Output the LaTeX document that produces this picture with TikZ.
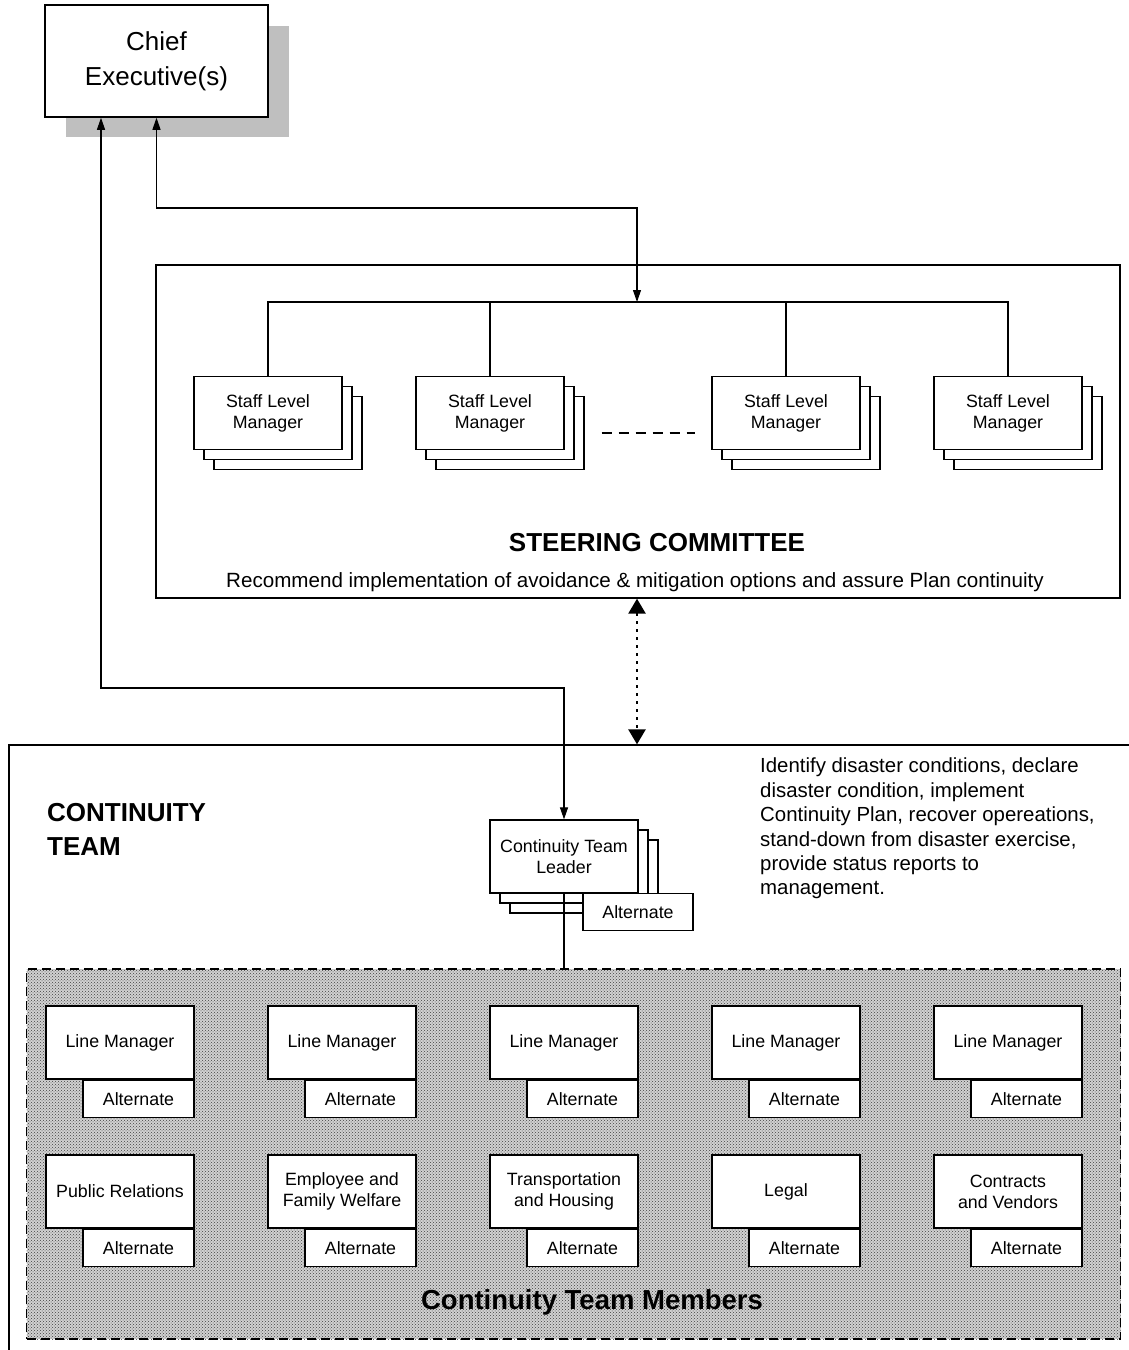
\documentclass[tikz,border=0pt]{standalone}
\usepackage{fontspec}
\setmainfont{Liberation Sans}
\usetikzlibrary{arrows.meta,patterns,positioning}

\tikzset{
  box/.style={draw, fill=white, line width=1.3pt, minimum width=148pt, minimum height=73pt,
    inner sep=0pt, align=center, font=\fontsize{17.8}{21}\selectfont},
  altbox/.style={draw, fill=white, line width=1.3pt, minimum width=111pt, minimum height=37pt,
    inner sep=0pt, font=\fontsize{17.8}{21}\selectfont},
  link/.style={line width=1.1pt},
  dbl/.style={{Triangle[width=8pt,length=12pt]}-{Triangle[width=8pt,length=12pt]}},
  heading/.style={inner sep=0pt, font=\fontsize{26}{34}\selectfont\bfseries},
}

\begin{document}
\begin{tikzpicture}[x=1pt, y=-1pt]
	\useasboundingbox (0,0) rectangle (1129,1350);
	\clip (0,0) rectangle (1129,1350);
	% chef avec ombre
	\fill[black!25] (66,26) rectangle (289,137);
	\node[draw, fill=white, line width=1.5pt, minimum width=223pt, minimum height=112pt,
		align=center, font=\fontsize{26}{35}\selectfont] (chief) at (156.5,61) {Chief\\Executive(s)};
	% comite de pilotage
	\node[draw, line width=1.3pt, minimum width=964pt, minimum height=333pt] (steer) at (638,431.5) {};
	\foreach \x [count=\i] in {268,490,786,1008} {
		\node[box] at (\x+20,433) {};
		\node[box] at (\x+10,423) {};
		\node[box] (staff\i) at (\x,413) {Staff Level\\Manager};
	}
	\coordinate (bus) at (637,302);
	\draw[link] (staff1.north) |- (bus) -| (staff4.north);
	\draw[link] (staff2.north) -- (staff2.north |- bus);
	\draw[link] (staff3.north) -- (staff3.north |- bus);
	\draw[link, dash pattern=on 10pt off 7pt] ([xshift=37pt,yshift=-20pt]staff2.east) -- ([xshift=-16pt,yshift=-20pt]staff3.west);
	\node[heading] (steertitle) at (657,543) {STEERING COMMITTEE};
	\node[inner sep=0pt, font=\fontsize{20.6}{24}\selectfont] (steertext) at (635,582)
		{Recommend implementation of avoidance \& mitigation options and assure Plan continuity};
	% equipe de continuite
	\node[draw, line width=1.3pt, minimum width=1131pt, minimum height=615pt] (team) at (574.5,1052.5) {};
	\node[heading, anchor=north west, align=left] (teamtitle) at (47,803) {CONTINUITY\\TEAM};
	\node[anchor=north west, inner sep=0pt, align=left, font=\fontsize{20.4}{24.4}\selectfont] (teamtext) at (760,758)
		{Identify disaster conditions, declare\\disaster condition, implement\\Continuity Plan, recover opereations,\\stand-down from disaster exercise,\\provide status reports to\\management.};
	\node[draw, dashed, dash pattern=on 9pt off 5pt, line width=1.3pt, preaction={fill=black!18},
		pattern=crosshatch dots, pattern color=black!75,
		minimum width=1094pt, minimum height=370pt] (members) at (573.5,1154) {};
	\node[heading, font=\fontsize{27.5}{34}\selectfont\bfseries] (memberstitle) at (592,1302) {Continuity Team Members};
	% chef d'equipe
	\node[box] at (584,876.5) {};
	\node[box] at (574,866.5) {};
	\node[box] (leader) at (564,856.5) {Continuity Team\\Leader};
	\node[altbox, minimum width=110pt, anchor=north] (leaderalt) at (638,893) {Alternate};
	\draw[link] (leader.south) -- (leader.south |- members.north);
	% membres
	\foreach \x [count=\i] in {120,342,564,786,1008} {
		\node[box] (line\i) at (\x,1042.5) {Line Manager};
		\node[altbox, anchor=north east] (linealt\i) at (line\i.south east) {Alternate};
	}
	\foreach \x/\lbl [count=\i] in {120/Public Relations, 342/{Employee and\\Family Welfare},
		564/{Transportation\\and Housing}, 786/Legal, 1008/{Contracts\\and Vendors}} {
		\node[box] (role\i) at (\x,1191.5) {\lbl};
		\node[altbox, anchor=north east] (rolealt\i) at (role\i.south east) {Alternate};
	}
	% liaisons
	\coordinate (turna) at (101,688);
	\coordinate (turnb) at (637,208);
	\draw[link, dbl] ([xshift=-55.5pt]chief.south) |- (turna) -| (leader.north);
	\draw[link, dbl] (chief.south) |- (turnb) -- (bus);
	\draw[line width=2.5pt, dash pattern=on 3pt off 5pt,
		{Triangle[width=17pt,length=15pt]}-{Triangle[width=17pt,length=15pt]}]
		(bus |- steer.south) -- (bus |- team.north);
\end{tikzpicture}
\end{document}
